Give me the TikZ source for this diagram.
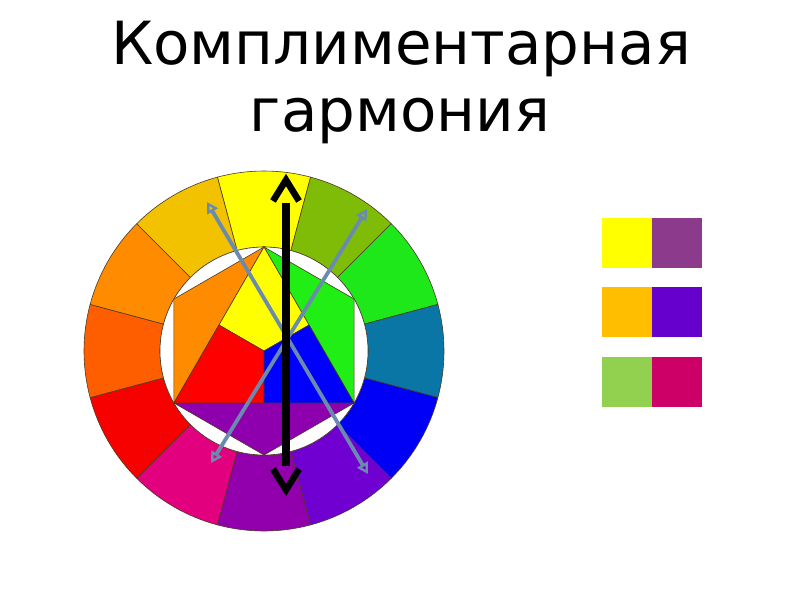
\documentclass[tikz,border=0pt]{standalone}
\usepackage{fontspec}
\setmainfont{DejaVu Sans}
\usetikzlibrary{arrows.meta,calc}
\definecolor{cY}{HTML}{FFFF00}
\definecolor{cYG}{HTML}{7FBC08}
\definecolor{cG}{HTML}{1FE81A}
\definecolor{cT}{HTML}{0A76A6}
\definecolor{cB}{HTML}{0000F6}
\definecolor{cBV}{HTML}{7000D2}
\definecolor{cP}{HTML}{9200AE}
\definecolor{cM}{HTML}{E2007F}
\definecolor{cR}{HTML}{F60000}
\definecolor{cRO}{HTML}{FF5E00}
\definecolor{cO}{HTML}{FF8C00}
\definecolor{cYO}{HTML}{F2C200}
\definecolor{inO}{HTML}{FF8C00}
\definecolor{inG}{HTML}{20EE14}
\definecolor{inP}{HTML}{8E00AE}
\definecolor{edge}{HTML}{4A3A20}
\definecolor{arr}{HTML}{6A8BAE}
\definecolor{sw1}{HTML}{FFFF00}
\definecolor{sw2}{HTML}{8C3A8C}
\definecolor{sw3}{HTML}{FFBF00}
\definecolor{sw4}{HTML}{6600CC}
\definecolor{sw5}{HTML}{92D050}
\definecolor{sw6}{HTML}{CC0066}
\tikzset{
  seg/.style={draw=edge, line width=0.6pt},
  swatch/.style={minimum width=50pt, minimum height=50pt, inner sep=0pt, outer sep=0pt},
  title/.style={font=\fontsize{59.5}{70}\selectfont, inner sep=0pt, anchor=base},
  bigarrow/.style={line width=7.5pt, black},
  chev/.style={line width=6.5pt, black, line join=miter, miter limit=10},
  thinarrow/.style={line width=3.8pt, arr, {Triangle[open,length=11pt,width=12pt,line width=2.4pt]}-{Triangle[open,length=11pt,width=12pt,line width=2.4pt]}},
}
\begin{document}
\begin{tikzpicture}[x=1pt,y=-1pt]
\useasboundingbox (0,0) rectangle (800,600);
\fill[white] (0,0) rectangle (800,600);
\node[title] (t1) at (401,64) {Комплиментарная};
\node[title] (t2) at (400,131) {гармония};
% wheel
\begin{scope}[shift={(264,351)}, yscale=-1]
  \foreach \c [count=\i from 0] in {cY,cYG,cG,cT,cB,cBV,cP,cM,cR,cRO,cO,cYO}{
    \pgfmathsetmacro{\a}{90-30*\i+15}
    \pgfmathsetmacro{\b}{90-30*\i-15}
    \filldraw[seg, fill=\c] (\a:180) arc[start angle=\a, end angle=\b, radius=180] -- (\b:104) arc[start angle=\b, end angle=\a, radius=104] -- cycle;
  }
  \filldraw[seg, fill=white] (0,0) circle[radius=104];
  \coordinate (T) at (90:104);
  \coordinate (UR) at (30:104);
  \coordinate (LR) at (-30:104);
  \coordinate (B) at (-90:104);
  \coordinate (LL) at (210:104);
  \coordinate (UL) at (150:104);
  \coordinate (C) at (0,0);
  \coordinate (ML) at ($(T)!0.5!(LL)$);
  \coordinate (MR) at ($(T)!0.5!(LR)$);
  \coordinate (MB) at ($(LL)!0.5!(LR)$);
  \filldraw[seg, fill=inO] (T) -- (UL) -- (LL) -- cycle;
  \filldraw[seg, fill=inG] (T) -- (UR) -- (LR) -- cycle;
  \filldraw[seg, fill=inP] (LL) -- (B) -- (LR) -- cycle;
  \filldraw[seg, fill=cY] (T) -- (MR) -- (C) -- (ML) -- cycle;
  \filldraw[seg, fill=red] (ML) -- (C) -- (MB) -- (LL) -- cycle;
  \filldraw[seg, fill=blue] (C) -- (MR) -- (LR) -- (MB) -- cycle;
\end{scope}
% arrows
\coordinate (a1) at (207,202);
\coordinate (a2) at (368,474);
\coordinate (b1) at (367,209);
\coordinate (b2) at (211,463);
\draw[thinarrow] (a1) -- (a2);
\draw[thinarrow] (b1) -- (b2);
\coordinate (k1) at (286,203);
\coordinate (k2) at (286,466);
\draw[bigarrow] (k1) -- (k2);
\draw[chev] (273,201) -- (286,180) -- (299,201);
\draw[chev] (273,469) -- (286,490) -- (299,469);
% swatches
\node[swatch, fill=sw1, anchor=north west] (s1) at (602,218) {};
\node[swatch, fill=sw2, anchor=north west] (s2) at (652,218) {};
\node[swatch, fill=sw3, anchor=north west] (s3) at (602,287) {};
\node[swatch, fill=sw4, anchor=north west] (s4) at (652,287) {};
\node[swatch, fill=sw5, anchor=north west] (s5) at (602,357) {};
\node[swatch, fill=sw6, anchor=north west] (s6) at (652,357) {};
\end{tikzpicture}
\end{document}
